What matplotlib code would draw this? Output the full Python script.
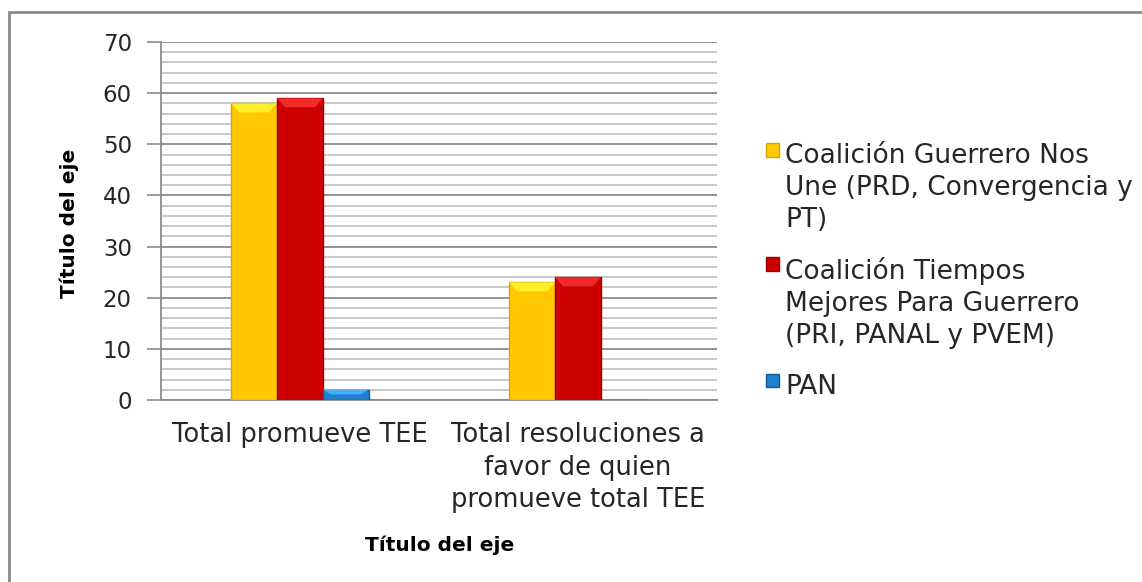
import numpy as np
import matplotlib
matplotlib.use("Agg")
import matplotlib.pyplot as plt
from matplotlib.patches import Rectangle, Polygon
from matplotlib.ticker import MultipleLocator

# ---- data ----
categories = ["Total promueve TEE",
              "Total resoluciones a\nfavor de quien\npromueve total TEE"]
series_names = ["Coalición Guerrero Nos\nUne (PRD, Convergencia y\nPT)",
                "Coalición Tiempos\nMejores Para Guerrero\n(PRI, PANAL y PVEM)",
                "PAN"]
guerrero_nos_une = [58, 23]
tiempos_mejores = [59, 24]
pan = [2, 0]
y_title = "Título del eje"
x_title = "Título del eje"

series_values = [guerrero_nos_une, tiempos_mejores, pan]
face_colors = ["#FFC800", "#CC0000", "#1F80D0"]
edge_colors = ["#D9A300", "#9E0000", "#145A96"]
bevel_colors = ["#FFEF2A", "#F22A2A", "#45ACF2"]

plt.rcParams['font.family'] = ['DejaVu Sans']

W, H = 1142, 582
fig = plt.figure(figsize=(W / 100, H / 100), dpi=100)
fig.patch.set_facecolor("white")

# outer chart border
fig.add_artist(Rectangle((9 / W, -0.2), 1.5, 1 - 12 / H + 0.2,
                         transform=fig.transFigure, fill=False,
                         edgecolor="#8A8A8A", linewidth=2, clip_on=False))

ax = fig.add_axes([161 / W, 1 - 400 / H, 556 / W, 358 / H])

x = np.arange(len(categories))
bar_w = 0.165
offsets = (np.arange(len(series_values)) - 1) * bar_w

ppx_x = 1 / 278.0          # data units per pixel horizontally
ppx_y = 70 / 358.0         # data units per pixel vertically

handles = []
for vals, name, fc, ec, bc, off in zip(series_values, series_names,
                                       face_colors, edge_colors,
                                       bevel_colors, offsets):
    bars = ax.bar(x + off, vals, width=bar_w, color=fc, edgecolor=ec,
                  linewidth=1.0, label=name, zorder=3)
    handles.append(bars)
    for b in bars:
        h = b.get_height()
        if h <= 0:
            continue
        bx, bw = b.get_x(), b.get_width()
        depth = min(9 * ppx_y, h * 0.45)
        inset = min(8 * ppx_x, bw * 0.3)
        poly = Polygon([(bx, h), (bx + bw, h), (bx + bw - inset, h - depth),
                        (bx + inset, h - depth)], closed=True,
                       facecolor=bc, edgecolor="none", zorder=4)
        ax.add_patch(poly)

ax.set_xlim(-0.5, len(categories) - 0.5)
ax.set_ylim(0, 70)
ax.yaxis.set_major_locator(MultipleLocator(10))
ax.yaxis.set_minor_locator(MultipleLocator(2))
ax.grid(True, which="major", axis="y", color="#8C8C8C", linewidth=1.3, zorder=1)
ax.grid(True, which="minor", axis="y", color="#C4C4C4", linewidth=1.3, zorder=0)
ax.set_axisbelow(True)

ax.set_xticks(x)
ax.set_xticklabels(categories, fontsize=18.5, color="#262626", linespacing=1.32)
ax.tick_params(axis="x", length=0, pad=16)
ax.tick_params(axis="y", which="major", length=10, width=1.2, color="#8C8C8C",
               labelsize=16.5, labelcolor="#262626", pad=11)
ax.tick_params(axis="y", which="minor", length=0)

for s in ["top", "right"]:
    ax.spines[s].set_visible(False)
for s in ["left", "bottom"]:
    ax.spines[s].set_color("#8C8C8C")
    ax.spines[s].set_linewidth(1.3)

ax.set_ylabel(y_title, fontsize=14.5, fontweight="bold", color="black")
ax.yaxis.set_label_coords((69 - 161) / 556, (400 - 223) / 358)
ax.yaxis.label.set_va("center")
ax.set_xlabel(x_title, fontsize=14.5, fontweight="bold", color="black")
ax.xaxis.set_label_coords((440 - 161) / 556, (400 - 545) / 358)
ax.xaxis.label.set_va("center")

leg = ax.legend(handles=handles, labels=series_names,
                loc="upper left", bbox_to_anchor=(766 / W, 1 - 143 / H),
                bbox_transform=fig.transFigure, frameon=False,
                fontsize=19, handlelength=0.5, handleheight=0.42,
                handletextpad=0.22, labelspacing=0.92, borderpad=0,
                borderaxespad=0)
for t in leg.get_texts():
    t.set_linespacing(1.3)
    t.set_color("#262626")
# put each marker beside the first line of its label
try:
    for col in leg._legend_handle_box.get_children():
        for row in col.get_children():
            row.align = "top"
except Exception:
    pass

fig.savefig("out.png", dpi=100)
